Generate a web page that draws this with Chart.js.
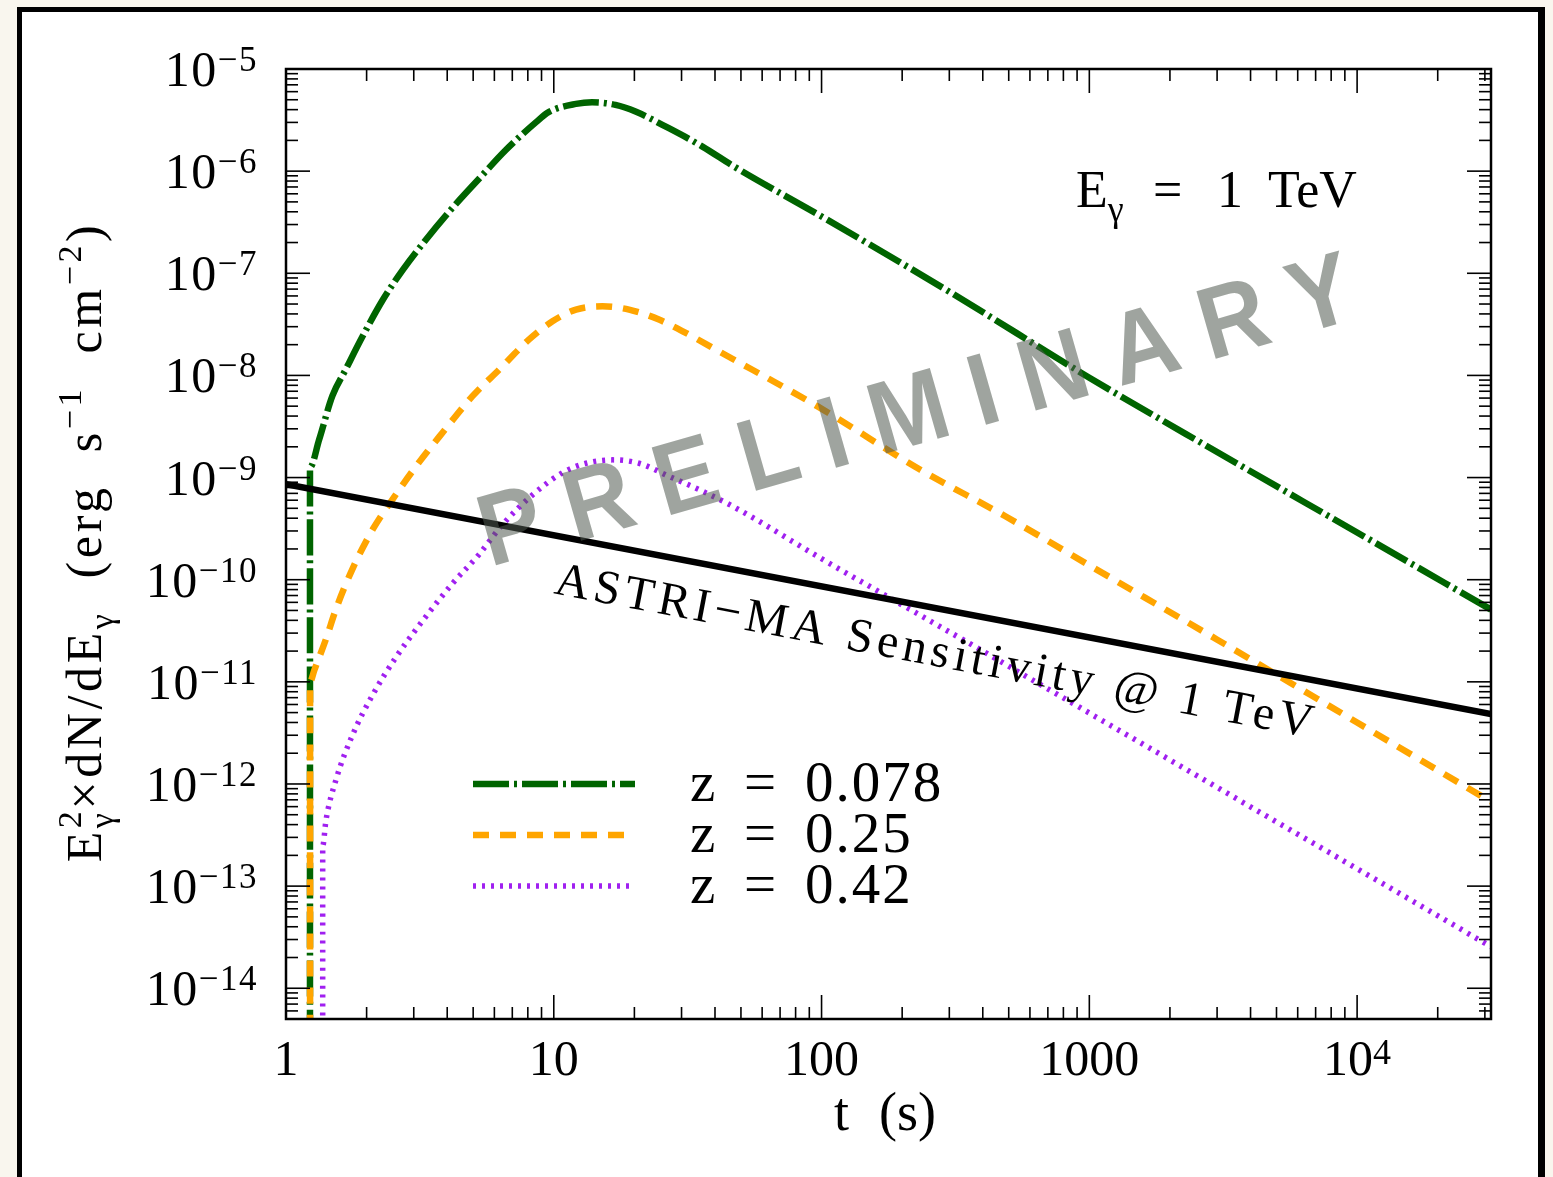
<!DOCTYPE html>
<html>
<head>
<meta charset="utf-8">
<title>GRB light curves at 1 TeV</title>
<script src="https://cdn.jsdelivr.net/npm/chart.js@4.4.1/dist/chart.umd.min.js"></script>
<style>
  html, body { margin: 0; padding: 0; background: #f9f6ee; overflow: hidden; }
  #wrap { position: relative; width: 1553px; height: 1177px; }
</style>
</head>
<body>
<div id="wrap"><canvas id="lc"></canvas></div>
<script>
// ------------ data: E^2 dN/dE at 1 TeV vs time (s) -------------

const zLabels = ['0.078', '0.25', '0.42'];

// z = 0.078
const tZ1 = [1.229, 1.229, 1.33, 1.49, 1.67, 1.93, 2.30, 2.73, 3.33, 4.19, 5.27, 6.62, 8.57, 9.6,
  12.1, 13.9, 17.0, 20.2, 26.9, 35.9, 47.1, 100, 300, 1000, 3000, 10000, 31623];
const fZ1 = [1e-16, 1.26e-9, 2.36e-9, 6.3e-9, 1.14e-8, 2.4e-8, 5.5e-8, 1.08e-7, 2.13e-7, 4.38e-7,
  8.47e-7, 1.61e-6, 3.0e-6, 3.8e-6, 4.55e-6, 4.72e-6, 4.45e-6, 3.83e-6, 2.63e-6, 1.74e-6, 1.11e-6,
  3.6e-7, 6.6e-8, 9.5e-9, 1.78e-9, 2.9e-10, 5.1e-11];

// z = 0.25
const tZ2 = [1.23, 1.23, 1.276, 1.41, 1.537, 1.77, 2.11, 2.50, 3.06, 3.84, 4.97, 6.25, 8.09, 9.89,
  12.1, 15.2, 19.1, 24.7, 31.1, 41.4, 96.3, 233, 484, 1057, 2994, 10000, 31623];
const fZ2 = [1e-16, 1.0e-11, 1.3e-11, 2.62e-11, 5.15e-11, 1.27e-10, 3.12e-10, 6.12e-10, 1.29e-9,
  2.75e-9, 6.26e-9, 1.14e-8, 2.25e-8, 3.39e-8, 4.41e-8, 4.75e-8, 4.41e-8, 3.52e-8, 2.61e-8, 1.72e-8,
  5.0e-9, 1.2e-9, 4.2e-10, 1.27e-10, 2.6e-11, 4.0e-12, 6.7e-13];

// z = 0.42
const tZ3 = [1.371, 1.371, 1.41, 1.537, 1.77, 2.11, 2.57, 3.24, 4.19, 5.27, 6.44, 8.33, 10.8, 13.2,
  16.6, 20.8, 26.9, 35.9, 46.4, 101, 336, 1000, 3162, 10000, 31623];
const fZ3 = [1e-17, 2.46e-13, 4.4e-13, 1.1e-12, 3.0e-12, 7.5e-12, 1.73e-11, 3.97e-11, 9.2e-11,
  1.78e-10, 3.47e-10, 6.76e-10, 1.12e-9, 1.38e-9, 1.49e-9, 1.38e-9, 1.03e-9, 7.35e-10, 5.26e-10,
  1.58e-10, 2.6e-11, 4.95e-12, 8.55e-13, 1.48e-13, 2.55e-14];

// ASTRI-MA sensitivity at 1 TeV
const tSens = [1, 31623];
const fSens = [8.6e-10, 4.84e-12];

const xTickLabels = ['1', '10', '100', '1000', '10^4'];
const xTickValues = [1, 10, 100, 1000, 10000];
const yTickLabels = ['10^−5', '10^−6', '10^−7', '10^−8', '10^−9', '10^−10', '10^−11', '10^−12', '10^−13', '10^−14'];
const yTickValues = [1e-5, 1e-6, 1e-7, 1e-8, 1e-9, 1e-10, 1e-11, 1e-12, 1e-13, 1e-14];

const X_MIN = 1, X_MAX = 31623, Y_MIN = 5e-15, Y_MAX = 1e-5;

const pts = (ts, fs) => ts.map((t, i) => ({ x: t, y: fs[i] }));

const SERIF = '"Liberation Serif", "DejaVu Serif", serif';

// draw a list of [text, size, dy, advance] runs, returns width
function runs(c, parts, x, y, measureOnly) {
  let cx = x;
  for (const [txt, size, dy, adv] of parts) {
    c.font = size + 'px ' + SERIF;
    if (!measureOnly) c.fillText(txt, cx, y + dy);
    if (adv !== false) cx += c.measureText(txt).width;
  }
  return cx - x;
}

function line(c, x1, y1, x2, y2) {
  c.beginPath(); c.moveTo(x1, y1); c.lineTo(x2, y2); c.stroke();
}

const frame = {
  id: 'frame',
  beforeDraw(chart) {
    const c = chart.ctx;
    c.save();
    c.fillStyle = '#f9f6ee'; c.fillRect(0, 0, chart.width, chart.height);
    c.fillStyle = '#000'; c.fillRect(17, 7, 1528, 1200);
    c.fillStyle = '#fff'; c.fillRect(22, 12, 1516, 1200);
    c.restore();
  },
  afterDatasetsDraw(chart) {
    const c = chart.ctx;
    const { left, right, top, bottom } = chart.chartArea;
    const xs = chart.scales.x, ys = chart.scales.y;
    c.save();
    c.strokeStyle = '#000';
    c.fillStyle = '#000';

    // ticks on all four sides, pointing in
    c.lineWidth = 1.6;
    for (let d = 0; d <= 4; d++) {
      for (let m = 1; m <= 9; m++) {
        const v = m * Math.pow(10, d);
        if (v > X_MAX) break;
        const px = xs.getPixelForValue(v);
        const len = m === 1 ? 24 : 12;
        line(c, px, bottom, px, bottom - len);
        line(c, px, top, px, top + len);
      }
    }
    for (let e = -15; e <= -6; e++) {
      for (let m = 1; m <= 9; m++) {
        const v = m * Math.pow(10, e);
        if (v < Y_MIN || v > Y_MAX) continue;
        const py = ys.getPixelForValue(v);
        const len = m === 1 ? 24 : 12;
        line(c, left, py, left + len, py);
        line(c, right, py, right - len, py);
      }
    }
    c.lineWidth = 2.5;
    c.strokeRect(left, top, right - left, bottom - top);

    // tick labels
    c.textAlign = 'left';
    c.textBaseline = 'alphabetic';
    yTickLabels.forEach((lab, i) => {
      const [base, exp] = lab.split('^');
      const py = ys.getPixelForValue(yTickValues[i]);
      c.save();
      c.letterSpacing = '1.5px';
      const parts = [[base, 50, 0], [exp, 35, -15]];
      const w = runs(c, parts, 0, 0, true);
      runs(c, parts, left - 28 - w, py + 17);
      c.restore();
    });
    xTickLabels.forEach((lab, i) => {
      const [base, exp] = lab.split('^');
      const px = xs.getPixelForValue(xTickValues[i]);
      const parts = [[base, 50, 0]];
      if (exp) parts.push([exp, 36, -11]);
      const w = runs(c, parts, 0, 0, true);
      runs(c, parts, px - w / 2, bottom + 56);
    });

    // axis titles
    runs(c, [['t', 54, 0]], 834, 1130);
    runs(c, [['(s)', 54, 0]], 879, 1130);

    const yt = [['E', 50, 0], ['2', 34, -20, false], ['γ', 34, 12], ['×dN/dE', 50, 0], ['γ', 34, 12],
      ['  (erg  s', 50, 0], ['−1', 34, -20], ['  cm', 50, 0], ['−2', 34, -20], [')', 50, 0]];
    c.save();
    c.letterSpacing = '3.6px';
    const wy = runs(c, yt, 0, 0, true);
    c.translate(101, (top + bottom) / 2 - 2);
    c.rotate(-Math.PI / 2);
    runs(c, yt, -wy / 2, 0);
    c.restore();

    // energy annotation
    runs(c, [['E', 52, 0], ['γ', 36, 14]], 1076, 207);
    runs(c, [['=', 52, 0]], 1153, 207);
    runs(c, [['1', 52, 0]], 1217, 207);
    runs(c, [['TeV', 52, 0]], 1268, 207);

    // legend, drawn from the dataset styles
    chart.data.datasets.slice(0, 3).forEach((ds, i) => {
      const y = 784 + 51 * i;
      c.save();
      c.strokeStyle = ds.borderColor;
      c.lineWidth = ds.borderWidth;
      c.lineCap = 'butt';
      c.setLineDash(ds.borderDash || []);
      line(c, 473, y, 635, y);
      c.restore();
      runs(c, [['z', 57, 0]], 690, y + 17);
      runs(c, [['=', 57, 0]], 744, y + 17);
      c.save();
      c.letterSpacing = '2px';
      runs(c, [[zLabels[i], 57, 0]], 805, y + 17);
      c.restore();
    });

    // sensitivity label along the line
    const p1 = { x: xs.getPixelForValue(tSens[0]), y: ys.getPixelForValue(fSens[0]) };
    const p2 = { x: xs.getPixelForValue(tSens[1]), y: ys.getPixelForValue(fSens[1]) };
    const ang = Math.atan2(p2.y - p1.y, p2.x - p1.x);
    const sx0 = 553;
    const sy0 = p1.y + (sx0 - p1.x) * (p2.y - p1.y) / (p2.x - p1.x) + 58;
    c.save();
    c.translate(sx0, sy0);
    c.rotate(ang);
    c.font = '48px ' + SERIF;
    c.letterSpacing = '4.6px';
    c.fillText('ASTRI−MA Sensitivity @ 1 TeV', 0, 0);
    c.restore();

    // watermark
    const word = 'PRELIMINARY';
    c.save();
    c.translate(490, 567);
    c.rotate(-16 * Math.PI / 180);
    c.font = 'bold 102px "Liberation Sans", Arial, sans-serif';
    c.fillStyle = 'rgba(80, 90, 80, 0.55)';
    const sx = 0.92;
    const widths = [...word].map(ch => c.measureText(ch).width * sx);
    const gap = (905 - widths.reduce((a, b) => a + b, 0)) / (word.length - 1);
    let pos = 0;
    [...word].forEach((ch, i) => {
      c.save();
      c.translate(pos, 0);
      c.scale(sx, 1);
      c.fillText(ch, 0, 0);
      c.restore();
      pos += widths[i] + gap;
    });
    c.restore();

    c.restore();
  }
};

const data = {
  datasets: [
    {
      label: 'z = ' + zLabels[0],
      data: pts(tZ1, fZ1),
      borderColor: '#006400',
      borderWidth: 6.5,
      borderDash: [36, 5, 3, 5],
      order: 3
    },
    {
      label: 'z = ' + zLabels[1],
      data: pts(tZ2, fZ2),
      borderColor: '#ffa500',
      borderWidth: 6.5,
      borderDash: [16, 11],
      order: 2
    },
    {
      label: 'z = ' + zLabels[2],
      data: pts(tZ3, fZ3),
      borderColor: '#a020f0',
      borderWidth: 5.5,
      borderDash: [3, 6],
      order: 1
    },
    {
      label: 'ASTRI-MA sensitivity',
      data: pts(tSens, fSens),
      borderColor: '#000',
      borderWidth: 6.5,
      cubicInterpolationMode: 'default',
      order: 0
    }
  ]
};

const config = {
  type: 'line',
  data: data,
  options: {
    responsive: true,
    maintainAspectRatio: false,
    animation: false,
    layout: { padding: { left: 286, top: 69, right: 62, bottom: 158 } },
    scales: {
      x: { type: 'logarithmic', min: X_MIN, max: X_MAX, display: false },
      y: { type: 'logarithmic', min: Y_MIN, max: Y_MAX, display: false }
    },
    plugins: { legend: { display: false }, tooltip: { enabled: false } },
    elements: {
      point: { radius: 0 },
      line: { cubicInterpolationMode: 'monotone', borderCapStyle: 'butt', borderJoinStyle: 'round', fill: false }
    },
    datasets: { line: { clip: 0 } }
  },
  plugins: [frame]
};

var lcChart = new Chart(document.getElementById('lc'), config);
</script>
</body>
</html>
